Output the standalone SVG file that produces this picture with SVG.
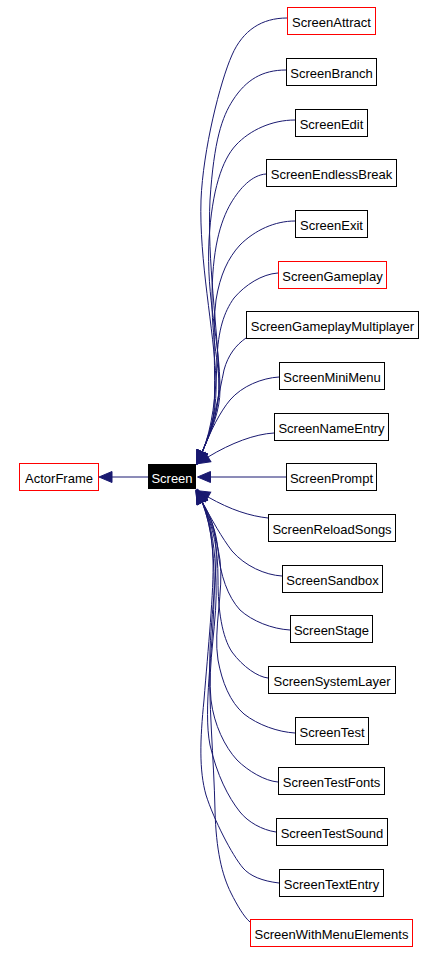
<svg xmlns="http://www.w3.org/2000/svg" width="435" height="953" viewBox="0 0 435 953">
<style>
.n rect{fill:#ffffff;stroke:#000000;stroke-width:1}
.n.r rect{stroke:#ff0000}
.n text{font-family:"Liberation Sans",Arial,sans-serif;font-size:13px;fill:#000000;text-anchor:middle}
#edges path{fill:none;stroke:#191970;stroke-width:1;marker-end:url(#ah)}
</style>
<defs>
<marker id="ah" markerUnits="userSpaceOnUse" markerWidth="16" markerHeight="14" viewBox="0 -7 16 14" refX="0" refY="0" orient="auto" overflow="visible">
<path d="M0,-5.5 L13,0 L0,5.5 z" fill="#191970" stroke="#191970" stroke-width="1"/>
</marker>
</defs>
<rect x="0" y="0" width="435" height="953" fill="#ffffff"/>
<g id="edges">
<path d="M148,477 L112,477"/>
<path d="M287,18 C262,18 243,30 232,55 C220,82 203,150 201,200 C199,260 214,330 216,380 C217,405 212.2,429 202.2,452"/>
<path d="M286,70 C262,70 246,80 233,100 C222,117 214,140 210,200 C207,260 218,330 219,380 C220,405 212.2,429 202.2,452"/>
<path d="M295,120 C272,120 250,130 236,145 C222,160 212,190 209,240 C206,300 220,340 220,390 C220,410 212.2,429 202.2,452"/>
<path d="M266,174 C252,175 240,188 231,203 C220,222 212,250 212,300 C212,350 222,370 218,400 C216,415 212.2,429 202.2,452"/>
<path d="M295,221 C275,221 255,230 240,245 C228,258 220,275 216,300 C212,330 216,370 214,410 C213,420 212.2,429 202.2,452"/>
<path d="M278,273 C262,274 245,285 234,298 C224,312 218,330 217,360 C216,395 212.2,429 202.2,452"/>
<path d="M246,338 C236,345 228,355 224,370 C220,390 212.2,429 202.2,452"/>
<path d="M279,377 C262,378 242,386 230,400 C220,412 211,430 202.2,452"/>
<path d="M274,433 C255,434 231,443 208,457"/>
<path d="M286,477 L210.5,477"/>
<path d="M268,518 C250,516 231,510 208,497"/>
<path d="M282,576 C265,575 245,566 232,551 C222,538 212,520 202.2,502"/>
<path d="M290,630 C272,629 252,621 240,610 C228,597 220,575 218,550 C216,530 212,522 202.2,502"/>
<path d="M268,678 C258,677 243,667 232,652 C222,637 218,610 218,580 C218,548 214,530 202.2,502"/>
<path d="M295,733 C278,732 258,725 244,714 C230,702 222,682 218,660 C213,630 224,590 220,560 C216,535 212.2,525 202.2,502"/>
<path d="M278,782 C265,781 248,771 237,760 C225,747 214,725 211,700 C207,665 218,620 216,580 C215,550 212.2,525 202.2,502"/>
<path d="M276,832 C262,830 248,822 240,812 C228,797 217,775 210,745 C203,710 213,650 214,600 C215,560 212.2,528 202.2,502"/>
<path d="M279,883 C262,881 250,876 243,868 C232,855 214,820 206,795 C199,770 200,740 204,700 C208,650 214,590 213,560 C212,535 210,525 202.2,502"/>
<path d="M250,922 C244,917 237,905 231,893 C222,875 216,850 215,810 C214,760 208,700 210,650 C212,600 220,560 214,530 C212,520 208,512 202.2,502"/>
</g>
<g id="ActorFrame" class="n r"><rect x="19.5" y="463.5" width="79" height="27"/><text x="59" y="482.5">ActorFrame</text></g>
<g id="Screen"><rect x="148" y="464" width="48" height="25" fill="#000000"/><text x="172" y="482.5" style="font-family:'Liberation Sans',Arial,sans-serif;font-size:13px;fill:#ffffff;text-anchor:middle">Screen</text></g>
<g id="ScreenAttract" class="n r"><rect x="287.5" y="7.5" width="88" height="27"/><text x="331.5" y="26.5">ScreenAttract</text></g>
<g id="ScreenBranch" class="n"><rect x="286.5" y="58.5" width="90" height="27"/><text x="331.5" y="77.5">ScreenBranch</text></g>
<g id="ScreenEdit" class="n"><rect x="295.5" y="109.5" width="72" height="27"/><text x="331.5" y="128.5">ScreenEdit</text></g>
<g id="ScreenEndlessBreak" class="n"><rect x="266.5" y="159.5" width="130" height="27"/><text x="331.5" y="178.5">ScreenEndlessBreak</text></g>
<g id="ScreenExit" class="n"><rect x="295.5" y="210.5" width="72" height="27"/><text x="331.5" y="229.5">ScreenExit</text></g>
<g id="ScreenGameplay" class="n r"><rect x="278.5" y="261.5" width="108" height="27"/><text x="332.5" y="280.5">ScreenGameplay</text></g>
<g id="ScreenGameplayMultiplayer" class="n"><rect x="246.5" y="311.5" width="172" height="27"/><text x="332.5" y="330.5">ScreenGameplayMultiplayer</text></g>
<g id="ScreenMiniMenu" class="n"><rect x="279.5" y="362.5" width="105" height="27"/><text x="332" y="381.5">ScreenMiniMenu</text></g>
<g id="ScreenNameEntry" class="n"><rect x="274.5" y="413.5" width="114" height="27"/><text x="331.5" y="432.5">ScreenNameEntry</text></g>
<g id="ScreenPrompt" class="n"><rect x="286.5" y="463.5" width="90" height="27"/><text x="331.5" y="482.5">ScreenPrompt</text></g>
<g id="ScreenReloadSongs" class="n"><rect x="268.5" y="514.5" width="127" height="27"/><text x="332" y="533.5">ScreenReloadSongs</text></g>
<g id="ScreenSandbox" class="n"><rect x="282.5" y="565.5" width="100" height="27"/><text x="332.5" y="584.5">ScreenSandbox</text></g>
<g id="ScreenStage" class="n"><rect x="290.5" y="615.5" width="82" height="27"/><text x="331.5" y="634.5">ScreenStage</text></g>
<g id="ScreenSystemLayer" class="n"><rect x="268.5" y="666.5" width="127" height="27"/><text x="332" y="685.5">ScreenSystemLayer</text></g>
<g id="ScreenTest" class="n"><rect x="295.5" y="717.5" width="73" height="27"/><text x="332" y="736.5">ScreenTest</text></g>
<g id="ScreenTestFonts" class="n"><rect x="278.5" y="767.5" width="106" height="27"/><text x="331.5" y="786.5">ScreenTestFonts</text></g>
<g id="ScreenTestSound" class="n"><rect x="276.5" y="818.5" width="111" height="27"/><text x="332" y="837.5">ScreenTestSound</text></g>
<g id="ScreenTextEntry" class="n"><rect x="279.5" y="869.5" width="104" height="27"/><text x="331.5" y="888.5">ScreenTextEntry</text></g>
<g id="ScreenWithMenuElements" class="n r"><rect x="250.5" y="919.5" width="162" height="27"/><text x="331.5" y="938.5">ScreenWithMenuElements</text></g>
</svg>
